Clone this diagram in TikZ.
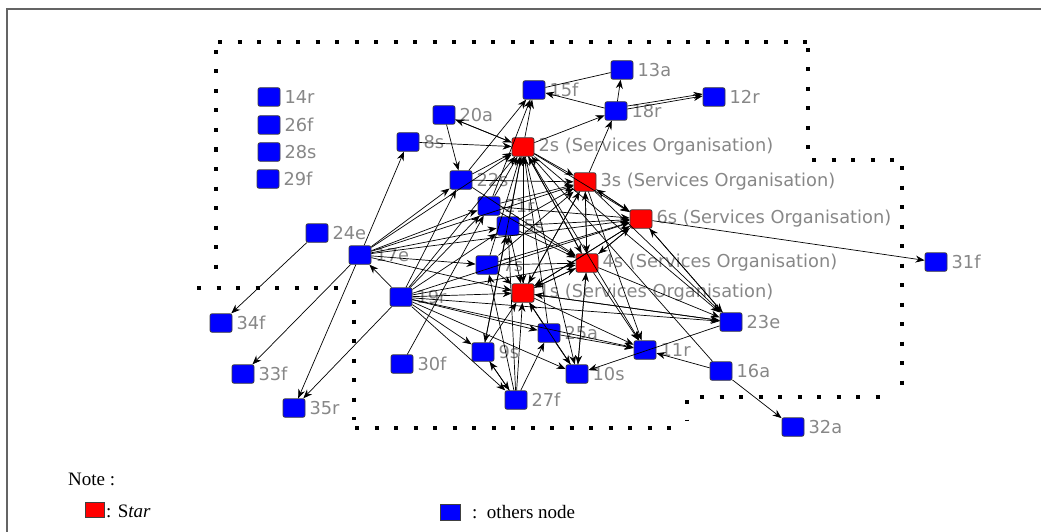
\documentclass[tikz,border=0pt]{standalone}
\usepackage{fontspec}
\setmainfont{Liberation Serif}
\newfontfamily\lblfont{DejaVu Sans}
\usetikzlibrary{arrows.meta}
\definecolor{nodeblue}{RGB}{0,0,255}
\definecolor{nodered}{RGB}{255,0,0}
\definecolor{lblgray}{RGB}{135,135,135}
\definecolor{framegray}{RGB}{100,100,100}
\begin{document}
\begin{tikzpicture}[x=1pt,y=-1pt,
  nd/.style={draw=black!75, line width=0.8pt, rounded corners=2pt, minimum width=22pt, minimum height=18.5pt, inner sep=0pt, fill=nodeblue},
  st/.style={nd, fill=nodered},
  lbl/.style={text=lblgray, font=\lblfont\fontsize{17.8}{18}\selectfont, inner sep=0pt},
  ed/.style={line width=0.7pt, -{Stealth[length=9pt,width=7pt]}},
  ln/.style={line width=0.7pt},
  dots/.style={line width=4pt, dash pattern=on 4pt off 15.5pt},
  legtext/.style={font=\fontsize{19}{19}\selectfont, inner sep=0pt, anchor=west}
  ]
\useasboundingbox (0,0) rectangle (1041,532);
% frame
\draw[framegray, line width=2pt] (7,532) -- (7,9) -- (1041,9);
% dotted outline
\draw[dots] (218,42) -- (810,42);
\draw[dots] (808,48) -- (808,156);
\draw[dots] (812,160) -- (900,160);
\draw[dots] (902,166) -- (902,386);
\draw[dots] (700,397) -- (880,397);
\draw[dots] (687,400) -- (687,420);
\draw[dots] (355,428) -- (685,428);
\draw[dots] (354,300) -- (354,420);
\draw[dots] (197,288) -- (352,288);
\draw[dots] (216,50) -- (216,278);
% nodes
\foreach \n/\x/\y in {14r/269/97, 26f/269/125, 28s/269/152, 29f/268/179,
  20a/444/115, 8s/408/142, 15f/534/90, 13a/622/70, 18r/616/111, 12r/714/97,
  22s/461/180, 21r/489/206, 5s/508/226, 7s/487/265, 25a/549/333, 9s/483/352,
  10s/577/374, 11r/645/350, 23e/731/322, 16a/721/371, 27f/516/400, 32a/793/427,
  31f/936/262, 24e/317/233, 17e/360/255, 19r/401/297, 34f/221/323, 33f/243/374,
  35r/294/408, 30f/402/364}
  \node[nd, label={[lbl, label distance=4pt]east:\n}] (n\n) at (\x,\y) {};
\foreach \n/\x/\y in {2s/523/147, 3s/585/182, 6s/641/219, 4s/587/263, 1s/523/293}
  \node[st, label={[lbl, label distance=4pt]east:\n\ (Services Organisation)}] (n\n) at (\x,\y) {};
% edges
\foreach \a/\b in {17e/33f, 17e/35r, 17e/8s, 17e/22s, 17e/21r, 17e/5s, 17e/7s, 17e/1s, 17e/2s, 17e/3s, 17e/6s,
  19r/17e, 19r/35r, 19r/2s, 19r/22s, 19r/21r, 19r/5s, 19r/1s, 19r/9s, 19r/27f, 19r/10s, 19r/25a, 19r/11r, 19r/23e, 19r/6s, 19r/4s,
  24e/34f, 30f/21r, 20a/22s, 20a/2s, 2s/20a, 8s/2s,
  22s/15f, 22s/2s, 22s/3s, 22s/4s,
  21r/2s, 21r/15f, 21r/3s, 21r/6s, 21r/4s,
  5s/2s, 5s/3s, 5s/6s, 5s/4s, 5s/1s,
  7s/2s, 7s/4s, 7s/6s, 7s/1s, 7s/3s,
  2s/15f, 2s/18r, 2s/3s, 2s/6s, 2s/4s, 2s/1s, 2s/23e, 2s/11r, 2s/10s, 2s/9s,
  1s/2s, 1s/3s, 1s/6s, 1s/4s, 1s/23e, 1s/11r,
  3s/18r, 3s/6s, 3s/4s, 3s/1s, 3s/23e, 3s/11r,
  4s/2s, 4s/3s, 4s/6s, 4s/1s, 4s/23e, 4s/11r, 4s/10s,
  6s/31f, 6s/3s, 6s/4s, 6s/1s, 6s/23e,
  18r/15f, 18r/13a, 23e/1s, 23e/10s, 23e/6s,
  16a/32a, 16a/2s, 16a/11r,
  27f/1s, 27f/9s, 9s/27f, 27f/25a, 27f/5s, 27f/7s,
  25a/1s, 25a/10s, 25a/2s, 25a/11r,
  9s/1s, 9s/5s, 10s/1s, 10s/4s}
  \draw[ed] (n\a) -- (n\b);
\draw[ln] (n13a) -- (n15f);
\draw[ed] ([yshift=2pt]n18r.east) -- ([yshift=1pt]n12r.west);
\draw[ed] ([yshift=5pt]n18r.east) -- ([yshift=3pt]n12r.west);
% legend
\node[legtext] (note) at (68,479) {Note :};
\node[st, minimum width=19pt, minimum height=15pt, rounded corners=0pt] (legred) at (95,510) {};
\node[legtext] (legredtxt) at (106,511) {: S\textit{tar}};
\node[nd, minimum width=20pt, minimum height=16pt, rounded corners=0pt] (legblue) at (450,512) {};
\node[legtext] (legbluetxt) at (472,512) {:\ \ others node};
\end{tikzpicture}
\end{document}
